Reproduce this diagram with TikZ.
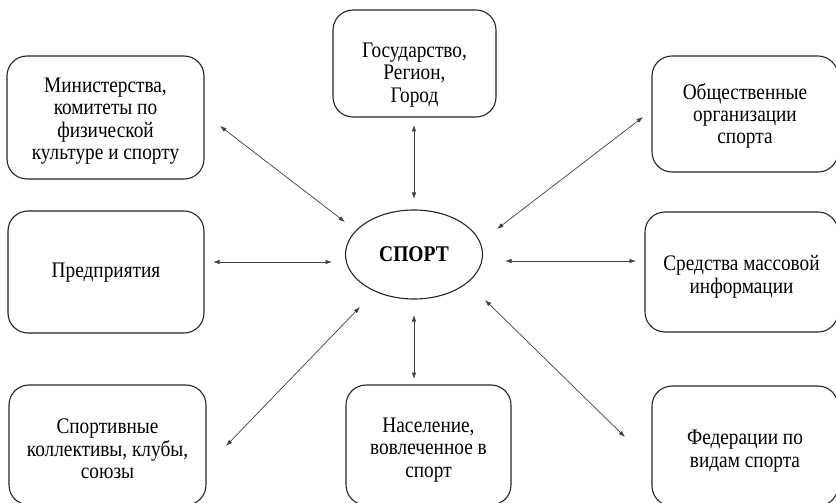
\documentclass[tikz,border=0pt]{standalone}
\usepackage{fontspec}
\usepackage{graphicx}
\setmainfont{Liberation Serif}
\usetikzlibrary{arrows.meta,shapes.geometric}
\newcommand\stxt[2][5.5bp]{\raisebox{-#1}[\height][\depth]{\scalebox{1}[1.15]{\fontsize{19.3bp}{19.4bp}\selectfont\begin{tabular}{@{}c@{}}#2\end{tabular}}}}
\tikzset{
  box/.style={draw=black!85, line width=1.1bp, rounded corners=20bp, align=center, inner sep=0pt},
  link/.style={draw=black!75, line width=0.7bp, {Latex[length=6.5bp,width=4.5bp]}-{Latex[length=6.5bp,width=4.5bp]}}
}
\begin{document}
\begin{tikzpicture}[x=1bp,y=-1bp]
\useasboundingbox (0,0) rectangle (836,503);
\clip (0,0) rectangle (836,503);
\fill[white] (0,0) rectangle (836,503);
% boxes: centre = corner midpoint
\node[box, minimum width=197bp, minimum height=123bp] (min) at (105.5,117.5) {\stxt[4bp]{Министерства,\\комитеты по\\физической\\культуре и спорту}};
\node[box, minimum width=163bp, minimum height=107bp] (gos) at (414.5,63.5) {\stxt[12bp]{Государство,\\Регион,\\Город}};
\node[box, minimum width=186bp, minimum height=116bp] (obs) at (745,114) {\stxt[3bp]{Общественные\\организации\\спорта}};
\node[box, minimum width=196bp, minimum height=122bp] (pred) at (106,272) {\stxt[1bp]{Предприятия}};
\node[box, minimum width=193bp, minimum height=120bp] (smi) at (741.5,272) {\stxt{Средства массовой\\информации}};
\node[box, minimum width=197bp, minimum height=120bp] (spk) at (107.5,445) {\stxt[6.5bp]{Спортивные\\коллективы, клубы,\\союзы}};
\node[box, minimum width=165bp, minimum height=120bp] (nas) at (428.5,445) {\stxt[5.5bp]{Население,\\вовлеченное в\\спорт}};
\node[box, minimum width=186bp, minimum height=120bp] (fed) at (745,446) {\stxt[5.5bp]{Федерации по\\видам спорта}};
% centre ellipse
\node[draw=black!85, line width=1.1bp, ellipse, minimum width=137bp, minimum height=89bp, inner sep=0pt] (sport) at (414,254.5) {\scalebox{1}[1.15]{\fontsize{19.5bp}{20bp}\selectfont\bfseries СПОРТ}};
% arrow end points
\coordinate (a1) at (220,126); \coordinate (b1) at (345,222);
\coordinate (a2) at (414,125); \coordinate (b2) at (414,199);
\coordinate (a3) at (643,117); \coordinate (b3) at (497,229);
\coordinate (a4) at (213,262); \coordinate (b4) at (332,262);
\coordinate (a5) at (636,261); \coordinate (b5) at (505,261);
\coordinate (a6) at (226,446); \coordinate (b6) at (360,307);
\coordinate (a7) at (414,379); \coordinate (b7) at (414,315);
\coordinate (a8) at (625,437); \coordinate (b8) at (485,300);
\draw[link] (a1) -- (b1);
\draw[link] (a2) -- (b2);
\draw[link] (a3) -- (b3);
\draw[link] (a4) -- (b4);
\draw[link] (a5) -- (b5);
\draw[link] (a6) -- (b6);
\draw[link] (a7) -- (b7);
\draw[link] (a8) -- (b8);
\end{tikzpicture}
\end{document}
